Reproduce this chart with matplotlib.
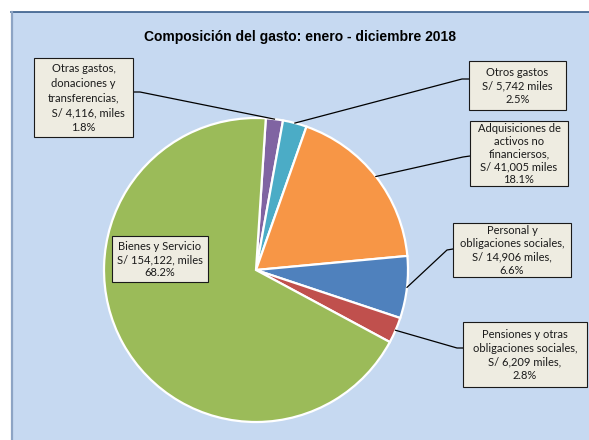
import matplotlib
matplotlib.use("Agg")
import matplotlib.pyplot as plt
from matplotlib.patches import Rectangle
from matplotlib.lines import Line2D
import numpy as np

# ---- data ----
categories = ["Otras gastos, donaciones y transferencias", "Otros gastos",
              "Adquisiciones de activos no financiersos", "Personal y obligaciones sociales",
              "Pensiones y otras obligaciones sociales", "Bienes y Servicio"]
values = [4116, 5742, 41005, 14906, 6209, 154122]
label_texts = [
    "Otras gastos,\ndonaciones y\ntransferencias,\n   S/ 4,116, miles\n1.8%",
    "Otros gastos\nS/ 5,742 miles\n2.5%",
    "Adquisiciones de\nactivos no\nfinanciersos,\nS/ 41,005 miles\n18.1%",
    "Personal y\nobligaciones sociales,\nS/ 14,906 miles,\n6.6%",
    "Pensiones y otras\nobligaciones sociales,\nS/ 6,209 miles,\n2.8%",
    "Bienes y Servicio\nS/ 154,122, miles\n68.2%",
]
colors = ["#8064A2", "#4BACC6", "#F79646", "#4F81BD", "#C0504D", "#9BBB59"]
title = "Composición del gasto: enero - diciembre 2018"

# ---- layout (pixels, origin top-left) ----
W, H = 589, 440
fig = plt.figure(figsize=(W / 100, H / 100), dpi=100)
fig.patch.set_facecolor("white")

def fx(x):
    return x / W

def fy(y):
    return 1 - y / H

# chart area
fig.add_artist(Rectangle((fx(11), 0), 1.0, fy(12), transform=fig.transFigure,
                         facecolor="#C6D9F1", edgecolor="none", zorder=0))
fig.add_artist(Line2D([fx(11), 1], [fy(12.5), fy(12.5)], transform=fig.transFigure,
                      color="#385D8A", lw=1.2, zorder=1))
fig.add_artist(Line2D([fx(12), fx(12)], [0, fy(12.5)], transform=fig.transFigure,
                      color="#8DA4C4", lw=1.6, zorder=1))

# pie
cx, cy, r = 256, 270, 152
L = 1.05
ax = fig.add_axes([fx(cx - r * L), fy(cy + r * L), 2 * r * L / W, 2 * r * L / H])
wedges, _ = ax.pie(values, colors=colors, startangle=86.3, counterclock=False,
                   radius=1, wedgeprops=dict(edgecolor="white", linewidth=1.6))
ax.set_xlim(-L, L)
ax.set_ylim(-L, L)
ax.axis("off")

fig.text(fx(300), fy(37), title, ha="center", va="center", fontsize=10,
         fontweight="bold", family="Liberation Sans")

# label boxes: (x0, y0, x1, y1), anchor on box, stub point
boxes = [
    ((34, 58, 133, 137), (133, 92), (140, 92)),
    ((469, 61, 566, 110), (469, 79), (462, 79)),
    ((470, 121, 568, 186), (470, 156), (463, 157)),
    ((453, 223, 571, 277), (453, 249), (447, 250)),
    ((463, 322, 587, 387), (463, 348), (457, 348)),
    ((112, 236, 208, 282), None, None),
]
spacings = [1.4, 1.25, 1.17, 1.25, 1.3, 1.25]

for w, txt, (bx, anc, stub), ls in zip(wedges, label_texts, boxes, spacings):
    x0, y0, x1, y1 = bx
    fig.add_artist(Rectangle((fx(x0), fy(y1)), (x1 - x0) / W, (y1 - y0) / H,
                             transform=fig.transFigure, facecolor="#EEECE1",
                             edgecolor="#1a1a1a", lw=0.8, zorder=5))
    fig.text(fx((x0 + x1) / 2), fy((y0 + y1) / 2 + 0.5), txt, ha="center", va="center",
             multialignment="center", fontsize=8.0, family="Lato", linespacing=ls,
             color="#1a1a1a", zorder=6)
    if anc is not None:
        th = np.deg2rad((w.theta1 + w.theta2) / 2)
        px = cx + r * np.cos(th)
        py = cy - r * np.sin(th)
        xs = [fx(px), fx(stub[0]), fx(anc[0])]
        ys = [fy(py), fy(stub[1]), fy(anc[1])]
        fig.add_artist(Line2D(xs, ys, transform=fig.transFigure, color="black",
                              lw=0.9, zorder=4))

fig.savefig("out.png", dpi=100)
